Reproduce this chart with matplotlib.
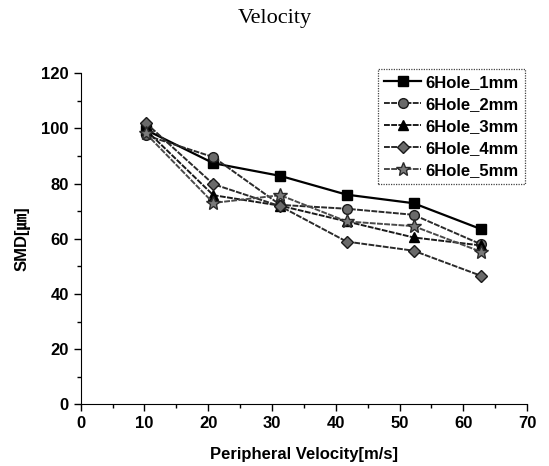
import matplotlib
matplotlib.use('Agg')
import matplotlib.pyplot as plt
from matplotlib.ticker import MultipleLocator

# Peripheral velocity [m/s] and SMD [um] for each hole size
velocity = [10.2, 20.8, 31.3, 41.7, 52.2, 62.8]
smd_1mm = [99.5, 87.4, 82.8, 76.0, 72.9, 63.5]
smd_2mm = [97.5, 89.6, 72.3, 70.9, 68.7, 58.0]
smd_3mm = [99.5, 75.8, 72.0, 66.3, 60.5, 57.6]
smd_4mm = [102.0, 79.8, 71.8, 59.0, 55.7, 46.6]
smd_5mm = [98.2, 73.0, 75.8, 66.3, 64.6, 55.3]
labels = ["6Hole_1mm", "6Hole_2mm", "6Hole_3mm", "6Hole_4mm", "6Hole_5mm"]

plt.rcParams['font.family'] = ['Liberation Sans', 'Noto Sans CJK JP', 'DejaVu Sans']

fig = plt.figure(figsize=(5.49, 4.66), dpi=100)
ax = fig.add_axes([0.147, 0.132, 0.813, 0.711])

styles = [
    dict(color='black', marker='s', mfc='black', mec='black', ls='-', lw=1.6),
    dict(color='#2a2a2a', marker='o', mfc='#6a6a6a', mec='#1a1a1a', ls=(0, (3, 0.7)), lw=1.4),
    dict(color='#1a1a1a', marker='^', mfc='black', mec='black', ls=(0, (3, 0.7)), lw=1.4),
    dict(color='#2a2a2a', marker='D', mfc='#6a6a6a', mec='#1a1a1a', ls=(0, (3, 0.7)), lw=1.4),
    dict(color='#4a4a4a', marker='*', mfc='#7a7a7a', mec='#2a2a2a', ls=(0, (3, 0.7)), lw=1.4),
]
sizes = {'s': 7, 'o': 7, '^': 7.5, 'D': 6.5, '*': 10}
series = [smd_1mm, smd_2mm, smd_3mm, smd_4mm, smd_5mm]
for vals, lab, st in zip(series, labels, styles):
    ax.plot(velocity, vals, label=lab, ms=sizes[st['marker']], mew=1.0, **st)

ax.set_xlim(0, 70)
ax.set_ylim(0, 120)
ax.xaxis.set_major_locator(MultipleLocator(10))
ax.xaxis.set_minor_locator(MultipleLocator(5))
ax.yaxis.set_major_locator(MultipleLocator(20))
ax.yaxis.set_minor_locator(MultipleLocator(10))
ax.spines['top'].set_visible(False)
ax.spines['right'].set_visible(False)
ax.tick_params(which='major', direction='out', length=5, width=1, labelsize=12)
ax.tick_params(which='minor', direction='out', length=3, width=1)
for t in ax.get_xticklabels() + ax.get_yticklabels():
    t.set_fontweight('bold')

ax.set_xlabel("Peripheral Velocity[m/s]", fontsize=12, fontweight='bold', labelpad=11)
ax.set_ylabel("SMD[㎛]", fontsize=12, fontweight='bold', labelpad=8)
fig.text(0.5, 0.96, "Velocity", ha='center', va='center',
         family='Liberation Serif', fontsize=16)

leg = ax.legend(loc='upper right', bbox_to_anchor=(0.995, 1.012), borderaxespad=0,
                prop={'weight': 'bold', 'size': 12}, handlelength=2.2,
                handletextpad=0.3, borderpad=0.35, labelspacing=0.42,
                fancybox=False, framealpha=1, edgecolor='#444444')
leg.get_frame().set_linestyle((0, (1, 1)))
leg.get_frame().set_linewidth(0.9)

plt.savefig("out.png", dpi=100)
plt.close()
